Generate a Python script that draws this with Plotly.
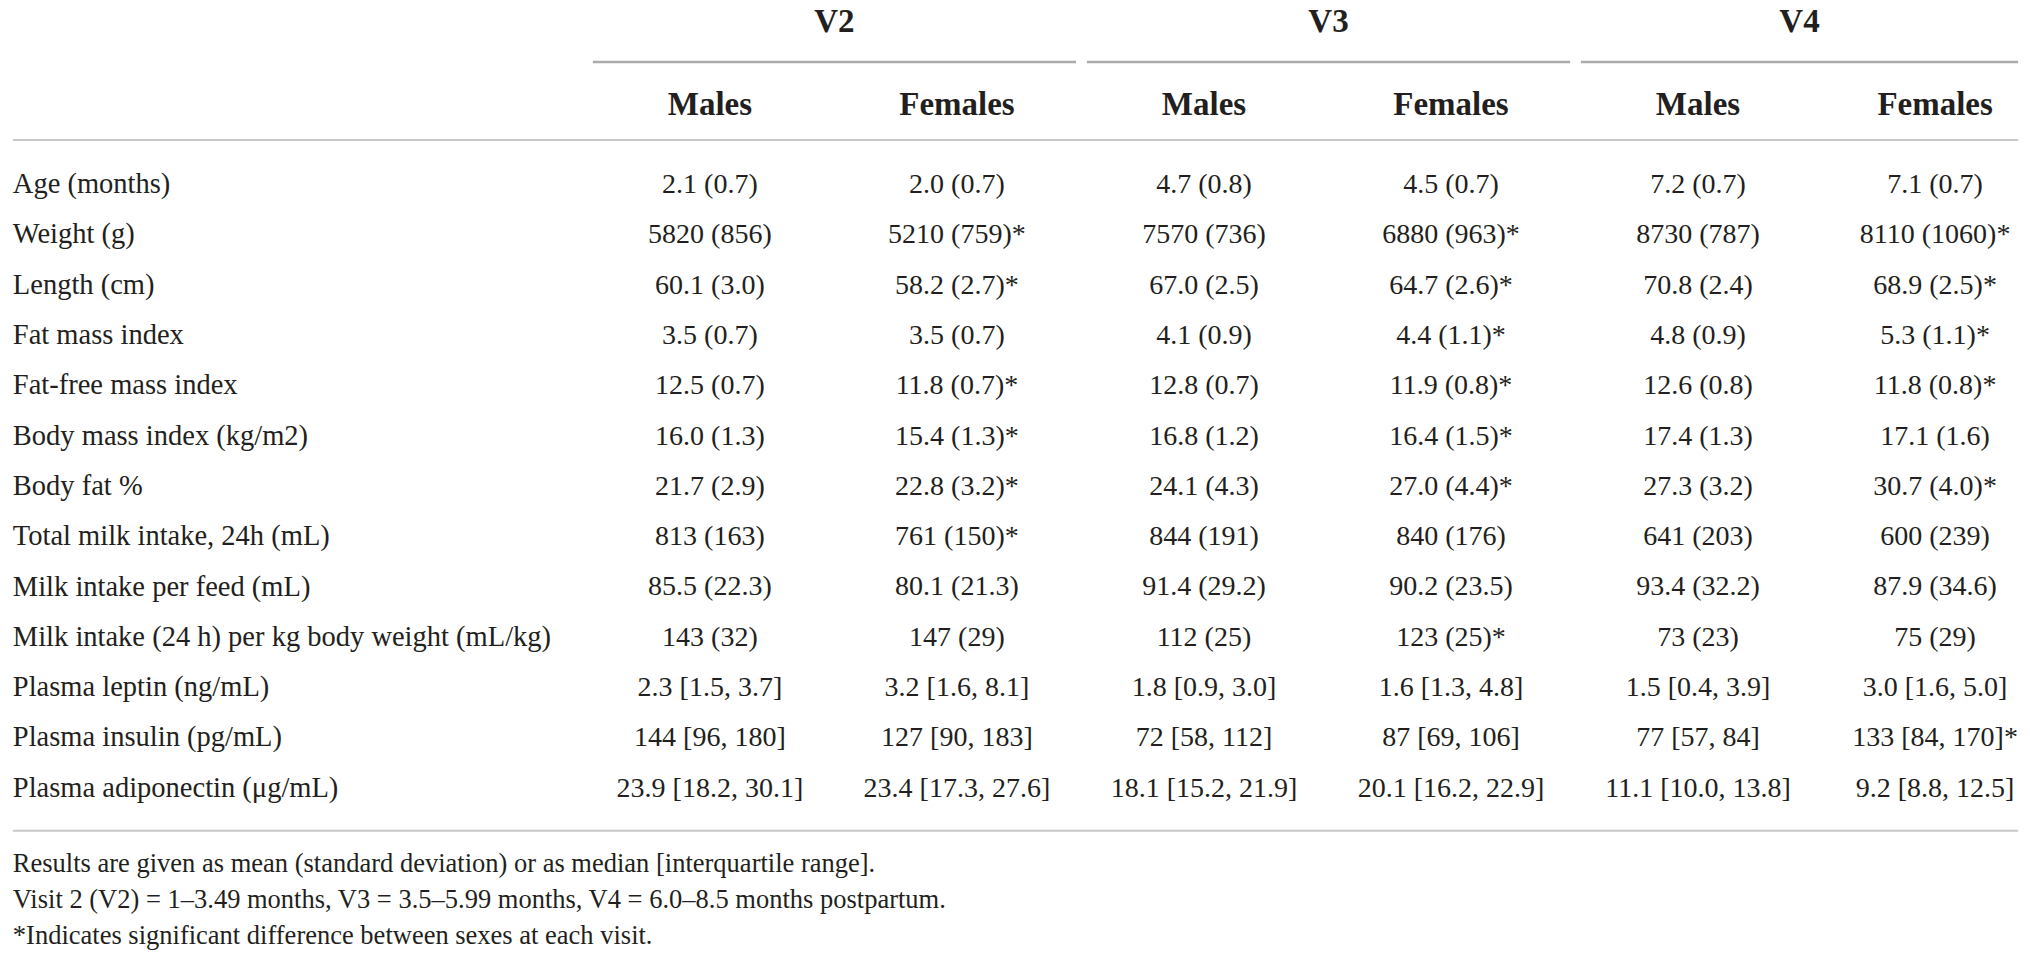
import plotly.graph_objects as go

# ---------------- data ----------------
visits = ["V2", "V3", "V4"]
sexes = ["Males", "Females"]
row_labels = [
    "Age (months)",
    "Weight (g)",
    "Length (cm)",
    "Fat mass index",
    "Fat-free mass index",
    "Body mass index (kg/m2)",
    "Body fat %",
    "Total milk intake, 24h (mL)",
    "Milk intake per feed (mL)",
    "Milk intake (24 h) per kg body weight (mL/kg)",
    "Plasma leptin (ng/mL)",
    "Plasma insulin (pg/mL)",
    "Plasma adiponectin (μg/mL)",
]
v2_males = ["2.1 (0.7)", "5820 (856)", "60.1 (3.0)", "3.5 (0.7)", "12.5 (0.7)", "16.0 (1.3)",
            "21.7 (2.9)", "813 (163)", "85.5 (22.3)", "143 (32)", "2.3 [1.5, 3.7]",
            "144 [96, 180]", "23.9 [18.2, 30.1]"]
v2_females = ["2.0 (0.7)", "5210 (759)*", "58.2 (2.7)*", "3.5 (0.7)", "11.8 (0.7)*", "15.4 (1.3)*",
              "22.8 (3.2)*", "761 (150)*", "80.1 (21.3)", "147 (29)", "3.2 [1.6, 8.1]",
              "127 [90, 183]", "23.4 [17.3, 27.6]"]
v3_males = ["4.7 (0.8)", "7570 (736)", "67.0 (2.5)", "4.1 (0.9)", "12.8 (0.7)", "16.8 (1.2)",
            "24.1 (4.3)", "844 (191)", "91.4 (29.2)", "112 (25)", "1.8 [0.9, 3.0]",
            "72 [58, 112]", "18.1 [15.2, 21.9]"]
v3_females = ["4.5 (0.7)", "6880 (963)*", "64.7 (2.6)*", "4.4 (1.1)*", "11.9 (0.8)*", "16.4 (1.5)*",
              "27.0 (4.4)*", "840 (176)", "90.2 (23.5)", "123 (25)*", "1.6 [1.3, 4.8]",
              "87 [69, 106]", "20.1 [16.2, 22.9]"]
v4_males = ["7.2 (0.7)", "8730 (787)", "70.8 (2.4)", "4.8 (0.9)", "12.6 (0.8)", "17.4 (1.3)",
            "27.3 (3.2)", "641 (203)", "93.4 (32.2)", "73 (23)", "1.5 [0.4, 3.9]",
            "77 [57, 84]", "11.1 [10.0, 13.8]"]
v4_females = ["7.1 (0.7)", "8110 (1060)*", "68.9 (2.5)*", "5.3 (1.1)*", "11.8 (0.8)*", "17.1 (1.6)",
              "30.7 (4.0)*", "600 (239)", "87.9 (34.6)", "75 (29)", "3.0 [1.6, 5.0]",
              "133 [84, 170]*", "9.2 [8.8, 12.5]"]
footnotes = [
    "Results are given as mean (standard deviation) or as median [interquartile range].",
    "Visit 2 (V2) = 1–3.49 months, V3 = 3.5–5.99 months, V4 = 6.0–8.5 months postpartum.",
    "*Indicates significant difference between sexes at each visit.",
]

# ---------------- layout constants ----------------
W, H = 2030, 965
FONT = "Liberation Serif"
TXT = "#231f20"
columns = [v2_males, v2_females, v3_males, v3_females, v4_males, v4_females]
col_pos = [0, 1, 2, 3, 4, 4.96]          # column units (1 unit = 247 px)
label_x = -2.822                         # left edge of row labels
table_right = 5.296
x_range = [-2.874, 5.344]
y_range = [15.487, -3.698]               # row units (1 unit = 50.3 px), reversed
y_group = -3.22
y_group_line = -2.465
y_header = -1.571
y_header_line = -0.915
y_bottom_line = 12.82
y_foot = [13.5, 14.22, 14.93]

fig = go.Figure()

rows = list(range(len(row_labels)))

# row labels
fig.add_trace(go.Scatter(
    x=[label_x] * len(rows), y=rows, text=row_labels, mode="text",
    textposition="middle right", textfont=dict(family=FONT, size=28.5, color=TXT),
    hoverinfo="skip", showlegend=False))

# data columns
for xc, vals in zip(col_pos, columns):
    fig.add_trace(go.Scatter(
        x=[xc] * len(vals), y=rows, text=vals, mode="text",
        textposition="middle center", textfont=dict(family=FONT, size=28, color=TXT),
        hoverinfo="skip", showlegend=False))

# header (sexes)
hdr_x, hdr_t = [], []
for gi in range(len(visits)):
    for si, s in enumerate(sexes):
        hdr_x.append(col_pos[gi * 2 + si])
        hdr_t.append(s)
fig.add_trace(go.Scatter(
    x=hdr_x, y=[y_header] * len(hdr_x), text=[f"<b>{t}</b>" for t in hdr_t], mode="text",
    textposition="middle center", textfont=dict(family=FONT, size=33, color=TXT),
    hoverinfo="skip", showlegend=False))

# group labels and lines
shapes = []
grp_x = []
for gi, v in enumerate(visits):
    x0 = col_pos[gi * 2] - 0.474
    x1 = min(col_pos[gi * 2 + 1] + 0.482, table_right)
    grp_x.append((x0 + x1) / 2)
    shapes.append(dict(type="line", xref="x", yref="y", x0=x0, x1=x1,
                       y0=y_group_line, y1=y_group_line,
                       line=dict(color="#ababab", width=2.5)))
fig.add_trace(go.Scatter(
    x=grp_x, y=[y_group] * len(visits), text=[f"<b>{v}</b>" for v in visits], mode="text",
    textposition="middle center", textfont=dict(family=FONT, size=33, color=TXT),
    hoverinfo="skip", showlegend=False))

for yl in (y_header_line, y_bottom_line):
    shapes.append(dict(type="line", xref="x", yref="y", x0=label_x, x1=table_right,
                       y0=yl, y1=yl, line=dict(color="#c8c8c8", width=2)))

# footnotes
fig.add_trace(go.Scatter(
    x=[label_x] * len(footnotes), y=y_foot, text=footnotes, mode="text",
    textposition="middle right", textfont=dict(family=FONT, size=26.5, color=TXT),
    hoverinfo="skip", showlegend=False))

fig.update_layout(
    width=W, height=H, margin=dict(l=0, r=0, t=0, b=0),
    paper_bgcolor="white", plot_bgcolor="white", shapes=shapes,
    xaxis=dict(range=x_range, visible=False, fixedrange=True),
    yaxis=dict(range=y_range, visible=False, fixedrange=True),
)
fig.write_html(
    "out.html",
    config={"displayModeBar": False},
    post_script="document.body.style.margin='0';document.body.style.overflow='hidden';",
)
